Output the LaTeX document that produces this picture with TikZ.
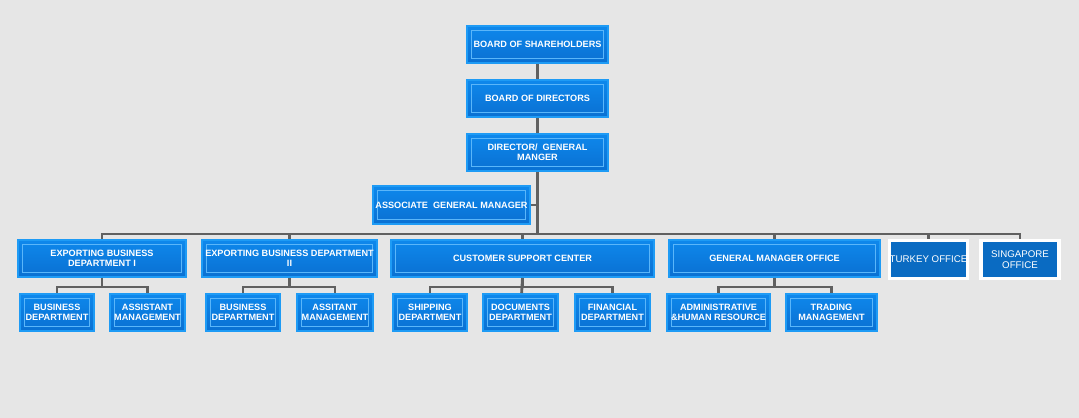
\documentclass[tikz,border=0pt]{standalone}
\usepackage{fontspec}
\setmainfont{Liberation Sans}
\usetikzlibrary{positioning, calc}
\definecolor{bgpaper}{HTML}{E6E6E6}
\definecolor{boxrim}{HTML}{1E9BF5}
\definecolor{boxtop}{HTML}{0E88EC}
\definecolor{boxmid}{HTML}{0A76DA}
\definecolor{boxbot}{HTML}{0A70D2}
\definecolor{boxline}{HTML}{5AB6FA}
\definecolor{officeblue}{HTML}{0A6BC2}
\definecolor{linkgray}{HTML}{606060}
\tikzset{
  unit/.style={rectangle, draw=boxrim, line width=1.4pt, top color=boxtop, middle color=boxmid, bottom color=boxbot, text=white, align=center, inner sep=1pt, minimum height=0.925cm, font=\bfseries\fontsize{6.5}{7.2}\selectfont,
    path picture={\draw[boxline, line width=0.6pt] ([shift={(3.2pt,-3.2pt)}]path picture bounding box.north west) rectangle ([shift={(-3.2pt,3.2pt)}]path picture bounding box.south east);}},
  office/.style={rectangle, draw=white, line width=2.2pt, fill=officeblue, text=white, align=center, inner sep=0pt, minimum height=0.95cm, font=\fontsize{6.9}{7.6}\selectfont},
  boxw/.style={minimum width=#1*0.025cm},
  link/.style={draw=linkgray, line width=2pt}
}
\begin{document}
\begin{tikzpicture}[x=0.025cm, y=-0.025cm]
  \fill[bgpaper] (0,0) rectangle (1079,418);
  \useasboundingbox (0,0) rectangle (1079,418);

  % top of the chart
  \node (bsh) [unit, boxw=141] at (537.5,44.5) {BOARD OF SHAREHOLDERS};
  \node (bod) [unit, boxw=141] at (537.5,98.5) {BOARD OF DIRECTORS};
  \node (dgm) [unit, boxw=141] at (537.5,152.5) {DIRECTOR/\ \ GENERAL\\MANGER};
  \node (agm) [unit, boxw=157, minimum height=0.95cm] at (451.5,205) {ASSOCIATE\ \ GENERAL MANAGER};
  \coordinate (bus) at (537.5,234);

  % departments
  \node (ebd1) [unit, boxw=168] at (102,258.5) {EXPORTING BUSINESS\\DEPARTMENT I};
  \node (ebd2) [unit, boxw=175] at (289.5,258.5) {EXPORTING BUSINESS DEPARTMENT\\II};
  \node (csc) [unit, boxw=263] at (522.5,258.5) {CUSTOMER SUPPORT CENTER};
  \node (gmo) [unit, boxw=211] at (774.5,258.5) {GENERAL MANAGER OFFICE};
  \node (tky) [office, boxw=77] at (928.5,259.5) {TURKEY OFFICE};
  \node (sgp) [office, boxw=78] at (1020,259.5) {SINGAPORE\\OFFICE};

  % sections
  \node (bd1) [unit, boxw=74] at (57,312.5) {BUSINESS\\DEPARTMENT};
  \node (am1) [unit, boxw=75] at (147.5,312.5) {ASSISTANT\\MANAGEMENT};
  \node (bd2) [unit, boxw=74] at (243,312.5) {BUSINESS\\DEPARTMENT};
  \node (am2) [unit, boxw=76] at (335,312.5) {ASSITANT\\MANAGEMENT};
  \node (shp) [unit, boxw=74] at (430,312.5) {SHIPPING\\DEPARTMENT};
  \node (doc) [unit, boxw=75] at (520.5,312.5) {DOCUMENTS\\DEPARTMENT};
  \node (fin) [unit, boxw=75] at (612.5,312.5) {FINANCIAL\\DEPARTMENT};
  \node (ahr) [unit, boxw=103] at (718.5,312.5) {ADMINISTRATIVE\\\&HUMAN RESOURCE};
  \node (trd) [unit, boxw=91] at (831.5,312.5) {TRADING\\MANAGEMENT};

  % trunk
  \draw [link] (bsh) -- (bod);
  \draw [link] (bod) -- (dgm);
  \draw [link] (dgm.south) -- (bus);
  \draw [link] (agm.east) -- (agm.east -| bus);

  % main bus
  \draw [link] (bus) -| (ebd1);
  \draw [link] (bus) -| (ebd2);
  \draw [link] (bus) -| (csc);
  \draw [link] (bus) -| (gmo);
  \draw [link] (bus) -| (tky);
  \draw [link] (bus) -| (sgp);

  % sub buses
  \draw [link] (ebd1.south) -- ++(0,9) -| (bd1);
  \draw [link] (ebd1.south) -- ++(0,9) -| (am1);
  \draw [link] (ebd2.south) -- ++(0,9) -| (bd2);
  \draw [link] (ebd2.south) -- ++(0,9) -| (am2);
  \draw [link] (csc.south) -- ++(0,9) -| (shp);
  \draw [link] (csc.south) -- (doc);
  \draw [link] (csc.south) -- ++(0,9) -| (fin);
  \draw [link] (gmo.south) -- ++(0,9) -| (ahr);
  \draw [link] (gmo.south) -- ++(0,9) -| (trd);
\end{tikzpicture}
\end{document}
